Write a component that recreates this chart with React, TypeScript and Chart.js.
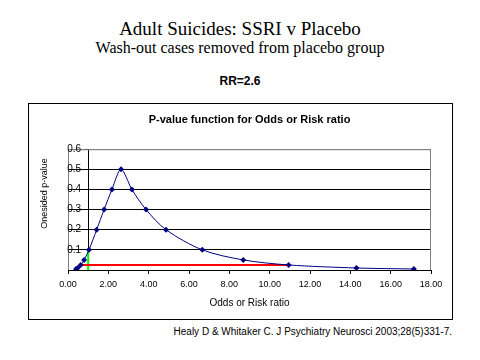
import React, { useEffect, useRef } from "react";
import { Chart, registerables } from "chart.js";

Chart.register(...registerables);

// ---- Data ----
const oddsRatios = [0.40, 0.48, 0.63, 0.80, 1.04, 1.42, 1.79, 2.18, 2.63, 3.17, 3.87, 4.86, 6.66, 8.69, 10.94, 14.30, 17.15];
const pValues = [0.005, 0.01, 0.025, 0.05, 0.1, 0.2, 0.3, 0.4, 0.5, 0.4, 0.3, 0.2, 0.1, 0.05, 0.025, 0.01, 0.005];
const ciBounds = [0.63, 10.94]; // 95% interval (red line)
const ciLevel = [0.025, 0.025];
const nullRatio = [1.0, 1.0]; // green line
const nullLine = [0, 0.1];
const xTickValues = [0, 2, 4, 6, 8, 10, 12, 14, 16, 18];
const yTickValues = [0, 0.1, 0.2, 0.3, 0.4, 0.5, 0.6];
const yTickLabels = ["", "0.1", "0.2", "0.3", "0.4", "0.5", "0.6"];

const mainTitle = "Adult Suicides: SSRI v Placebo";
const subTitle = "Wash-out cases removed from placebo group";
const rrText = "RR=2.6";
const chartTitle = "P-value function for Odds or Risk ratio";
const xTitle = "Odds or Risk ratio";
const yTitle = "Onesided p-value";
const footer = "Healy D & Whitaker C.  J Psychiatry Neurosci 2003;28(5)331-7.";

const SANS = "'Liberation Sans', Arial, sans-serif";
const SERIF = "'Liberation Serif', 'Times New Roman', serif";

const plotFrame = {
  id: "plotFrame",
  beforeDatasetsDraw(chart: any) {
    const { ctx, chartArea, scales } = chart;
    ctx.save();
    ctx.strokeStyle = "#808080";
    ctx.lineWidth = 1;
    ctx.beginPath();
    ctx.moveTo(chartArea.left + 0.5, chartArea.bottom);
    ctx.lineTo(chartArea.left + 0.5, chartArea.top + 0.5);
    ctx.lineTo(chartArea.right - 0.5, chartArea.top + 0.5);
    ctx.lineTo(chartArea.right - 0.5, chartArea.bottom);
    ctx.stroke();
    // y tick labels, left of the axis that crosses at x = 1
    const axisX = scales.x.getPixelForValue(nullRatio[0]);
    ctx.fillStyle = "#000";
    ctx.font = `10px ${SANS}`;
    ctx.textAlign = "right";
    ctx.textBaseline = "middle";
    yTickValues.forEach((v, i) => {
      ctx.fillText(yTickLabels[i], axisX - 7, scales.y.getPixelForValue(v));
    });
    // y axis title
    ctx.font = `9px ${SANS}`;
    ctx.textAlign = "center";
    ctx.translate(16, (chartArea.top + chartArea.bottom) / 2 - 16);
    ctx.rotate(-Math.PI / 2);
    ctx.fillText(yTitle, 0, 0);
    ctx.restore();
  },
};

function PChart() {
  const ref = useRef<HTMLCanvasElement>(null);
  useEffect(() => {
    if (!ref.current) return;
    const chart = new Chart(ref.current, {
      type: "scatter",
      data: {
        datasets: [
          {
            data: oddsRatios.map((x, i) => ({ x, y: pValues[i] })),
            showLine: true,
            borderColor: "#000080",
            borderWidth: 1,
            backgroundColor: "#000080",
            pointStyle: "rectRot",
            pointRadius: 3,
            pointBorderWidth: 0,
            tension: 0.3,
          },
          {
            data: ciBounds.map((x, i) => ({ x, y: ciLevel[i] })),
            showLine: true,
            borderColor: "#ff0000",
            borderWidth: 2,
            pointRadius: 0,
          },
          {
            data: nullRatio.map((x, i) => ({ x, y: nullLine[i] })),
            showLine: true,
            borderColor: "#00ff00",
            borderWidth: 2,
            pointRadius: 0,
          },
        ],
      },
      options: {
        responsive: false,
        animation: false,
        events: [],
        layout: { padding: { left: 39, right: 21, top: 0, bottom: 0 } },
        plugins: {
          legend: { display: false },
          tooltip: { enabled: false },
          title: {
            display: true,
            text: chartTitle,
            color: "#000",
            font: { family: SANS, size: 11, weight: "bold" },
            padding: { top: 9, bottom: 23 },
          },
        },
        scales: {
          x: {
            type: "linear",
            min: 0,
            max: 18,
            afterBuildTicks: (s: any) => {
              s.ticks = xTickValues.map((v) => ({ value: v }));
            },
            afterFit: (s: any) => {
              s.height = 49;
            },
            ticks: {
              color: "#000",
              font: { family: SANS, size: 9 },
              padding: 5,
              maxRotation: 0,
              autoSkip: false,
              callback: (v: any) => Number(v).toFixed(2),
            },
            grid: { drawOnChartArea: false, drawTicks: true, tickLength: 4, tickColor: "#000" },
            border: { color: "#000", width: 1 },
            title: {
              display: true,
              text: xTitle,
              color: "#000",
              font: { family: SANS, size: 10 },
              padding: { top: 0, bottom: 10 },
            },
          },
          y: {
            type: "linear",
            min: 0,
            max: 0.6,
            position: { x: 1 } as any,
            afterBuildTicks: (s: any) => {
              s.ticks = yTickValues.map((v) => ({ value: v }));
            },
            afterFit: (s: any) => {
              s.width = 0;
            },
            ticks: { display: false },
            grid: {
              color: (c: any) => (c.tick && Math.abs(c.tick.value - 0.6) < 1e-6 ? "#808080" : "#000"),
              tickColor: "#000",
              tickLength: 4,
              lineWidth: 1,
            },
            border: { color: "#000", width: 1 },
          },
        },
      },
      plugins: [plotFrame],
    } as any);
    return () => chart.destroy();
  }, []);
  return <canvas ref={ref} width={423} height={215} style={{ display: "block" }} />;
}

export default function App() {
  const abs = (extra: React.CSSProperties): React.CSSProperties => ({
    position: "absolute",
    left: 0,
    width: 480,
    textAlign: "center",
    whiteSpace: "nowrap",
    color: "#000",
    ...extra,
  });
  return (
    <div style={{ position: "relative", width: 480, height: 360, margin: -8, background: "#fff", overflow: "hidden" }}>
      <div style={abs({ top: 19, fontFamily: SERIF, fontSize: 19, lineHeight: "19px" })}>{mainTitle}</div>
      <div style={abs({ top: 40, fontFamily: SERIF, fontSize: 16, lineHeight: "16px" })}>{subTitle}</div>
      <div style={abs({ top: 75, fontFamily: SANS, fontSize: 12, fontWeight: "bold", lineHeight: "12px" })}>{rrText}</div>
      <div
        style={{
          position: "absolute",
          left: 28,
          top: 103,
          width: 423,
          height: 215,
          border: "1px solid #000",
          background: "#fff",
        }}
      >
        <PChart />
      </div>
      <div
        style={{
          position: "absolute",
          right: 28,
          top: 327,
          fontFamily: SANS,
          fontSize: 10,
          lineHeight: "10px",
          whiteSpace: "nowrap",
          color: "#000",
        }}
      >
        {footer}
      </div>
    </div>
  );
}
